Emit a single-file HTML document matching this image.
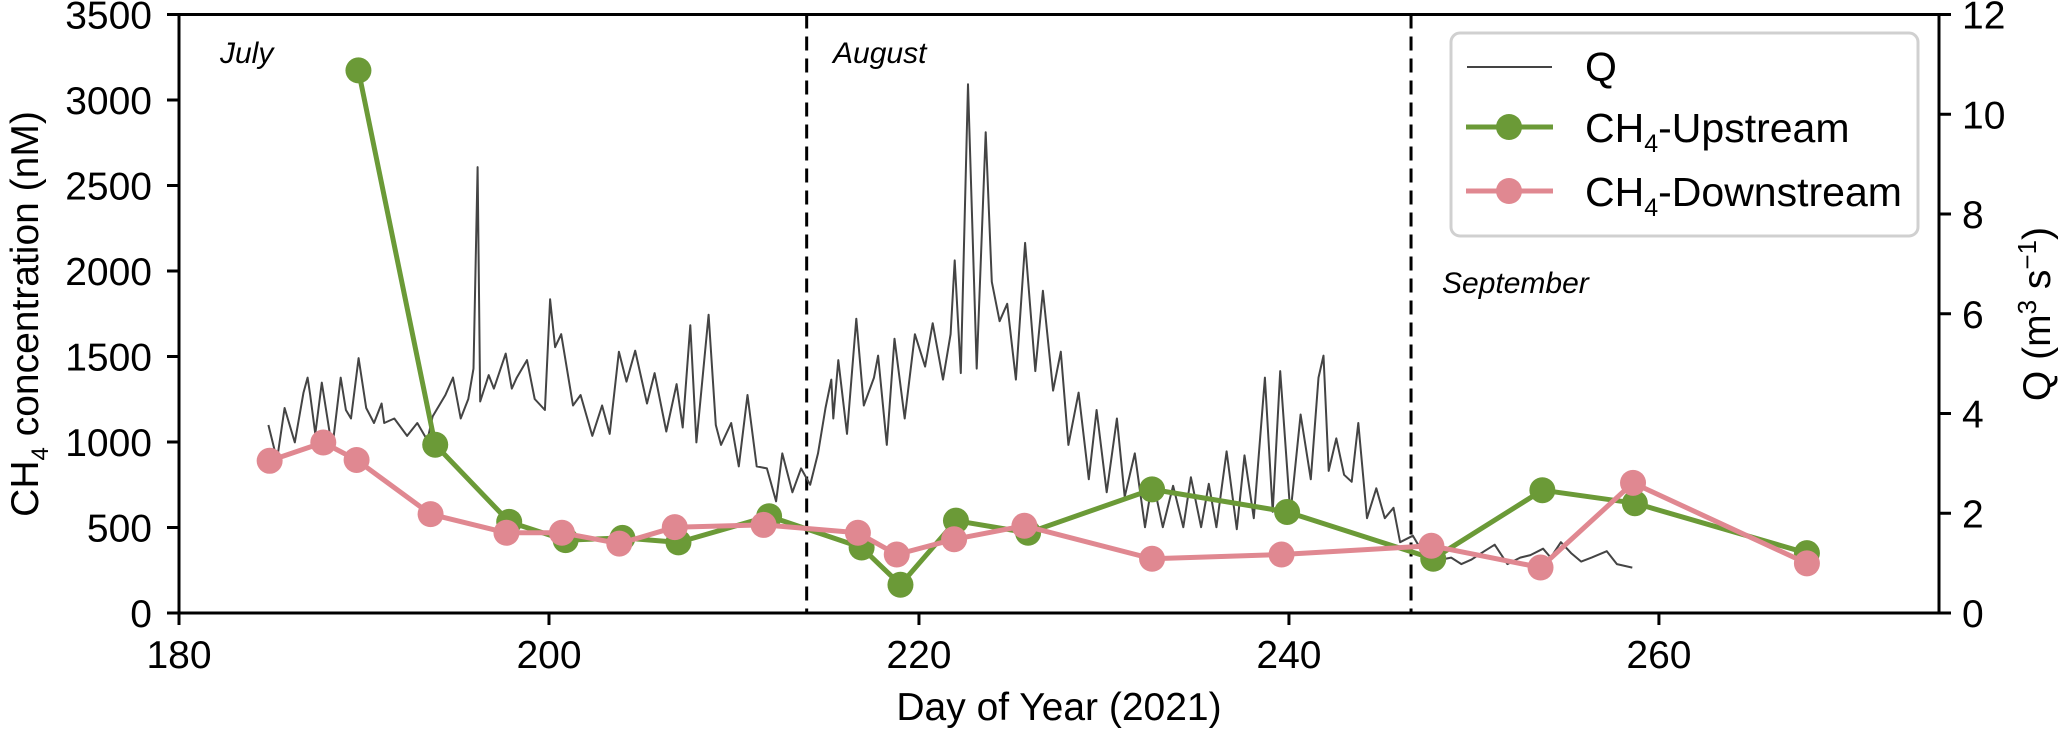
<!DOCTYPE html>
<html><head><meta charset="utf-8"><style>
html,body{margin:0;padding:0;background:#fff;}
svg{display:block;font-family:"Liberation Sans",Arial,sans-serif;}
</style></head><body>
<svg id="chart" width="2067" height="731" viewBox="0 0 2067 731" xmlns="http://www.w3.org/2000/svg">
<g id="plot"></g>
</svg>
<script>
const xTicks=[180,200,220,240,260];
const yLeftTicks=[0,500,1000,1500,2000,2500,3000,3500];
const yRightTicks=[0,2,4,6,8,10,12];
const monthLines=[213.93,246.6];
const upDays=[189.7,193.85,197.85,200.9,203.97,207.0,211.9,216.9,219.0,222.0,225.9,232.6,239.9,247.8,253.7,258.7,268.0];
const upVals=[3173,984,533,426,439,413,566,383,165,540,469,723,591,317,718,642,350];
const downDays=[184.9,187.8,189.6,193.6,197.7,200.7,203.8,206.8,211.6,216.7,218.8,221.9,225.7,232.6,239.6,247.7,253.6,258.6,268.0];
const downVals=[890,997,895,578,469,469,406,502,515,469,342,431,510,317,342,393,266,761,290];
const qDays=[184.83,185.3,185.71,186.26,186.73,186.95,187.09,187.37,187.72,188.28,188.74,189.02,189.3,189.71,190.12,190.54,190.95,191.09,191.64,192.33,192.88,193.43,193.71,194.4,194.81,195.23,195.64,195.92,196.14,196.28,196.74,197.02,197.66,197.99,198.26,198.81,199.23,199.78,200.06,200.33,200.66,201.3,201.71,202.34,202.87,203.28,203.78,204.19,204.66,205.3,205.71,206.34,206.9,207.23,207.64,207.97,208.63,209.02,209.3,209.85,210.26,210.73,211.23,211.78,212.28,212.61,213.16,213.63,214.12,214.54,214.95,215.26,215.37,215.64,216.11,216.61,217.02,217.57,217.79,218.26,218.68,219.23,219.78,220.33,220.74,221.3,221.71,221.93,222.26,222.65,223.12,223.61,223.94,224.36,224.77,225.24,225.74,226.29,226.7,227.25,227.67,228.08,228.63,229.18,229.6,230.15,230.7,231.12,231.67,232.22,232.63,233.18,233.74,234.29,234.7,235.25,235.67,236.08,236.63,237.18,237.6,238.1,238.7,239.12,239.53,240.08,240.63,241.18,241.6,241.87,242.15,242.56,242.98,243.39,243.75,244.22,244.72,245.18,245.65,246.01,246.7,247.25,247.8,248.22,248.77,249.32,249.87,250.56,251.12,251.81,252.5,253.05,253.74,254.15,254.7,255.25,255.8,256.36,257.18,257.73,258.56];
const qVals=[3.77,3.07,4.11,3.42,4.42,4.72,4.37,3.59,4.62,3.29,4.72,4.07,3.9,5.11,4.11,3.81,4.2,3.81,3.9,3.55,3.81,3.46,3.94,4.37,4.72,3.9,4.29,4.9,8.94,4.24,4.77,4.5,5.2,4.5,4.72,5.07,4.29,4.07,6.29,5.33,5.59,4.16,4.37,3.55,4.16,3.59,5.24,4.64,5.26,4.2,4.81,3.64,4.59,3.72,5.77,3.42,5.98,3.77,3.37,3.81,2.94,4.37,2.94,2.9,2.24,3.2,2.42,2.9,2.57,3.2,4.11,4.68,3.9,5.07,3.59,5.9,4.16,4.72,5.16,3.37,5.5,3.9,5.59,4.94,5.81,4.68,5.59,7.07,4.81,10.6,4.9,9.64,6.64,5.85,6.2,4.68,7.42,4.85,6.46,4.46,5.24,3.37,4.42,2.68,4.07,2.42,3.9,2.33,3.2,1.72,2.68,1.72,2.55,1.72,2.72,1.72,2.59,1.72,3.24,1.68,3.16,1.9,4.72,2.03,4.85,1.98,3.98,2.68,4.72,5.16,2.85,3.5,2.77,2.63,3.81,1.9,2.5,1.9,2.11,1.42,1.55,1.2,1.29,1.07,1.11,0.98,1.07,1.24,1.37,0.98,1.11,1.16,1.29,1.11,1.42,1.2,1.03,1.11,1.24,0.98,0.91];

const NS='http://www.w3.org/2000/svg';
const L=179,R=1939,T=14.5,B=613;
const xMin=180,xMax=275.14;
const X=d=>L+(d-xMin)/(xMax-xMin)*(R-L);
const YL=v=>B-v/3500*(B-T);
const YR=v=>B-v/12*(B-T);
const g=document.getElementById('plot');
function mk(tag,attrs,parent){const e=document.createElementNS(NS,tag);for(const k in attrs)e.setAttribute(k,attrs[k]);(parent||g).appendChild(e);return e;}

monthLines.forEach(d=>{
  const ln=mk('line',{x1:X(d),x2:X(d),y1:T,y2:B,stroke:'#000','stroke-width':3,'stroke-dasharray':'14 8'});
  
  
});
[['July',220,63],['August',833,63],['September',1442,293]].forEach(m=>{
  const t=mk('text',{x:m[1],y:m[2],'font-size':30,'font-style':'italic',fill:'#000'});t.textContent=m[0];
  
  
});
const qp=qDays.map((d,i)=>X(d).toFixed(1)+','+YR(qVals[i]).toFixed(1)).join(' ');
const ql=mk('polyline',{points:qp,fill:'none',stroke:'#444','stroke-width':2,'stroke-linejoin':'round'});


function series(days,vals,color,name){
  const p=days.map((d,i)=>X(d).toFixed(1)+','+YL(vals[i]).toFixed(1)).join(' ');
  const pl=mk('polyline',{points:p,fill:'none',stroke:color,'stroke-width':5,'stroke-linejoin':'round'});
  
  
  days.forEach((d,i)=>{
    const c=mk('circle',{cx:X(d),cy:YL(vals[i]),r:13,fill:color});
    
    
  });
}
series(upDays,upVals,'#6b9a37','ch4-upstream');
series(downDays,downVals,'#e08891','ch4-downstream');

const fr=mk('rect',{x:L,y:T,width:R-L,height:B-T,fill:'none',stroke:'#000','stroke-width':3});


xTicks.forEach(v=>{
  mk('line',{x1:X(v),x2:X(v),y1:B,y2:B+12,stroke:'#000','stroke-width':3});
  const t=mk('text',{x:X(v),y:668,'font-size':39,'text-anchor':'middle'});t.textContent=v;
  
  
});
yLeftTicks.forEach(v=>{
  mk('line',{x1:L-12,x2:L,y1:YL(v),y2:YL(v),stroke:'#000','stroke-width':3});
  const t=mk('text',{x:152,y:YL(v)+14,'font-size':39,'text-anchor':'end'});t.textContent=v;
  
  
});
yRightTicks.forEach(v=>{
  mk('line',{x1:R,x2:R+12,y1:YR(v),y2:YR(v),stroke:'#000','stroke-width':3});
  const t=mk('text',{x:1962,y:YR(v)+14,'font-size':39,'text-anchor':'start'});t.textContent=v;
  
  
});
const xt=mk('text',{x:1059,y:720,'font-size':39,'text-anchor':'middle'});xt.textContent='Day of Year (2021)';


const yt=mk('text',{transform:'translate(38,314) rotate(-90)','font-size':39,'text-anchor':'middle'});
yt.innerHTML='CH<tspan font-size="24" dy="10">4</tspan><tspan dy="-10"> concentration (nM)</tspan>';


const yr=mk('text',{transform:'translate(2050,314) rotate(-90)','font-size':39,'text-anchor':'middle'});
yr.innerHTML='Q (m<tspan font-size="26" dy="-14">3</tspan><tspan dy="14"> s</tspan><tspan font-size="26" dy="-14">−1</tspan><tspan dy="14">)</tspan>';



const lg=mk('g',{});


mk('rect',{x:1451,y:33,width:467,height:203,rx:9,fill:'#fff','fill-opacity':0.85,stroke:'#d0d0d0','stroke-width':3},lg);
mk('line',{x1:1467,x2:1552,y1:67,y2:67,stroke:'#444','stroke-width':2},lg);
const t1=mk('text',{x:1585,y:81,'font-size':41},lg);t1.textContent='Q';


mk('line',{x1:1466,x2:1553,y1:127,y2:127,stroke:'#6b9a37','stroke-width':5},lg);
mk('circle',{cx:1509,cy:127,r:13,fill:'#6b9a37'},lg);
const t2=mk('text',{x:1585,y:142,'font-size':41},lg);
t2.innerHTML='CH<tspan font-size="25" dy="10">4</tspan><tspan dy="-10">-Upstream</tspan>';


mk('line',{x1:1466,x2:1553,y1:191,y2:191,stroke:'#e08891','stroke-width':5},lg);
mk('circle',{cx:1509,cy:191,r:13,fill:'#e08891'},lg);
const t3=mk('text',{x:1585,y:206,'font-size':41},lg);
t3.innerHTML='CH<tspan font-size="25" dy="10">4</tspan><tspan dy="-10">-Downstream</tspan>';


</script>
</body></html>
